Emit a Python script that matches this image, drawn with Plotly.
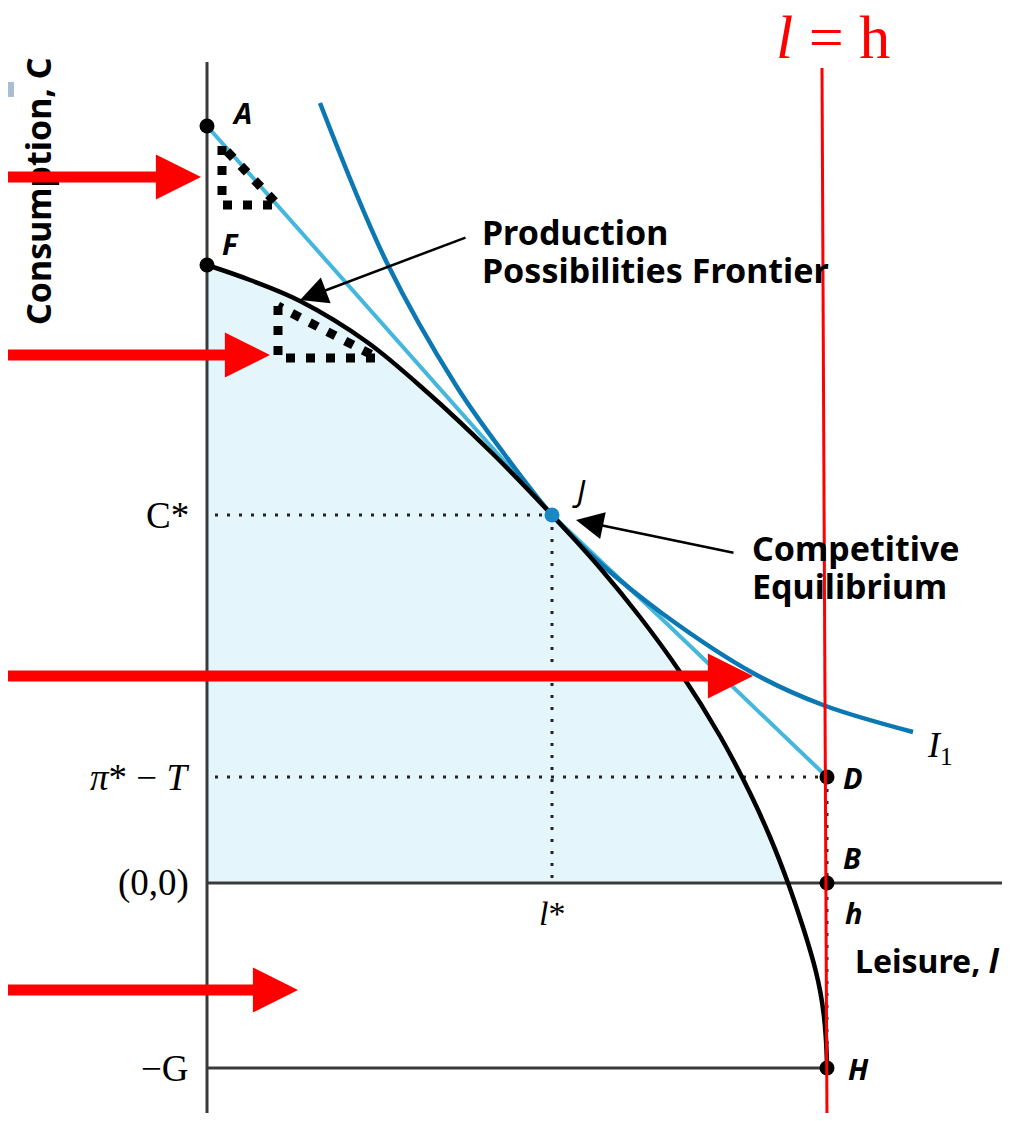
import plotly.graph_objects as go

# ---------------- data (leisure l on x, consumption C on y) ----------------
ppf_l = [0.0, 4.3, 9.3, 16.0, 22.0, 28.6, 34.5, 39.3, 43.3, 47.3, 51.3, 54.3, 56.3, 58.1,
         59.3, 60.3, 60.9, 61.35, 61.68, 61.88, 61.97, 62.0]
ppf_c = [61.8, 60.3, 58.2, 54.1, 49.1, 42.9, 36.8, 31.5, 26.6, 21.1, 14.7, 9.0, 4.6, 0.0,
         -3.5, -6.7, -8.9, -11.0, -13.2, -15.4, -17.2, -18.5]

budget_l = [0.0, 22.6, 34.5, 45.6, 62.0]
budget_c = [75.7, 50.3, 36.8, 26.3, 10.6]

indiff_l = [11.3, 18.0, 25.0, 29.8, 34.5, 39.3, 45.6, 54.6, 61.6, 70.6]
indiff_c = [78.0, 62.0, 49.6, 42.8, 36.8, 32.0, 26.9, 21.0, 17.8, 15.1]

h = 62.0
l_star = 34.5
c_star = 36.8
pi_minus_t = 10.6
c_A = 75.7
c_F = 61.8
minus_G = -18.5

tri_budget_l = [1.5, 1.5, 7.1, 1.5]
tri_budget_c = [73.7, 67.8, 67.8, 73.7]
tri_ppf_l = [7.1, 7.1, 17.1, 7.1]
tri_ppf_c = [57.7, 52.5, 52.5, 57.7]

point_names = ["A", "F", "D", "B", "H"]
point_l = [0.0, 0.0, h, h, h]
point_c = [c_A, c_F, pi_minus_t, 0.0, minus_G]

y_tick_labels = ["C*", "π* − T", "(0,0)", "−G"]
y_tick_values = [c_star, pi_minus_t, 0.0, minus_G]

red_arrow_tip_l = [-0.6, 6.3, 54.6, 9.1]
red_arrow_tip_c = [70.6, 52.8, 20.7, -10.7]

SANS = "Noto Sans"
SERIF = "Liberation Serif"
AXIS_COL = "#3a3a3a"
LIGHT_BLUE = "#45b6dc"
DARK_BLUE = "#0b77b3"

fig = go.Figure()

# shaded feasible region
n_pos = sum(1 for c in ppf_c if c >= 0)
fig.add_trace(go.Scatter(x=ppf_l[:n_pos], y=ppf_c[:n_pos], mode="lines",
                         line=dict(width=0, shape="spline"), fill="tozeroy",
                         fillcolor="#e4f6fc", hoverinfo="skip"))

# dotted guide lines
guide = dict(color="#222", width=3, dash="3px,9px")
fig.add_trace(go.Scatter(x=[0.8, l_star], y=[c_star, c_star], mode="lines", line=guide))
fig.add_trace(go.Scatter(x=[l_star, l_star], y=[c_star, 0], mode="lines", line=guide))
fig.add_trace(go.Scatter(x=[0.8, h], y=[pi_minus_t, pi_minus_t], mode="lines", line=guide))
fig.add_trace(go.Scatter(x=[h, h], y=[pi_minus_t, minus_G], mode="lines", line=guide))

# axes
fig.add_trace(go.Scatter(x=[0, 0], y=[82.1, -24.0], mode="lines", line=dict(color=AXIS_COL, width=3)))
fig.add_trace(go.Scatter(x=[0, 79.5], y=[0, 0], mode="lines", line=dict(color=AXIS_COL, width=3)))
fig.add_trace(go.Scatter(x=[0, h], y=[minus_G, minus_G], mode="lines", line=dict(color=AXIS_COL, width=3)))

# budget line, indifference curve, PPF
fig.add_trace(go.Scatter(x=budget_l, y=budget_c, mode="lines", line=dict(color=LIGHT_BLUE, width=4)))
fig.add_trace(go.Scatter(x=indiff_l, y=indiff_c, mode="lines",
                         line=dict(color=DARK_BLUE, width=4.5, shape="spline")))
fig.add_trace(go.Scatter(x=ppf_l, y=ppf_c, mode="lines",
                         line=dict(color="black", width=4.5, shape="spline")))

# dotted slope triangles
tri = dict(color="black", width=9, dash="9px,11px")
fig.add_trace(go.Scatter(x=tri_budget_l, y=tri_budget_c, mode="lines", line=tri))
fig.add_trace(go.Scatter(x=tri_ppf_l, y=tri_ppf_c, mode="lines", line=tri))

# points
fig.add_trace(go.Scatter(x=point_l, y=point_c, mode="markers",
                         marker=dict(color="black", size=15)))
fig.add_trace(go.Scatter(x=[l_star], y=[c_star], mode="markers",
                         marker=dict(color="#1a88c4", size=15)))

# red vertical line l = h
fig.add_trace(go.Scatter(x=[61.5, 62.0], y=[81.5, -24.0], mode="lines",
                         line=dict(color="#ff0000", width=3)))

ann = []

def txt(x, y, text, size, family=SANS, color="black", xanchor="left", yanchor="middle", angle=0):
    ann.append(dict(x=x, y=y, xref="x", yref="y", text=text, showarrow=False,
                    font=dict(family=family, size=size, color=color),
                    xanchor=xanchor, yanchor=yanchor, textangle=angle))

# point labels
label_pos = {"A": (2.3, 77.1), "F": (1.3, 64.0), "D": (63.4, pi_minus_t),
             "B": (63.4, 2.6), "H": (63.9, minus_G)}
for name in point_names:
    x, y = label_pos[name]
    txt(x, y, f"<b><i>{name}</i></b>", 29)
txt(63.6, -2.9, "<b><i>h</i></b>", 29)
txt(36.3, 39.3, "<i>J</i>", 30)

# y tick labels (serif)
for lab, v in zip(y_tick_labels, y_tick_values):
    if lab.startswith("π"):
        t = "<i>π</i>* − <i>T</i>"
    else:
        t = lab
    txt(-1.6, v, t, 37, family=SERIF, xanchor="right")
txt(l_star, -3.0, "<i>l</i>*", 34, family=SERIF, xanchor="center")

# I1 label
txt(71.8, 13.6, "<i>I</i><sub>1</sub>", 36, family=SERIF)

# big text
txt(27.3, 65.1, "<b>Production</b>", 34)
txt(27.3, 61.3, "<b>Possibilities Frontier</b>", 34)
txt(54.3, 33.5, "<b>Competitive</b>", 34)
txt(54.3, 29.7, "<b>Equilibrium</b>", 34)
txt(64.6, -7.7, "<b>Leisure, <i>l</i></b>", 32)
txt(-16.9, 69.2, "<b>Consumption, C</b>", 34, angle=-90, xanchor="center")
txt(62.6, 84.6, "<i>l</i> = h", 62, family=SERIF, color="#ff0000", xanchor="center")

# black pointer arrows
ann.append(dict(x=9.3, y=58.3, ax=26.0, ay=64.6, xref="x", yref="y", axref="x", ayref="y",
                text="", showarrow=True, arrowhead=2, arrowsize=2.2, arrowwidth=2.5, arrowcolor="black"))
ann.append(dict(x=36.9, y=36.3, ax=52.8, ay=33.0, xref="x", yref="y", axref="x", ayref="y",
                text="", showarrow=True, arrowhead=2, arrowsize=2.2, arrowwidth=2.5, arrowcolor="black"))

# red arrows
for tl, tc in zip(red_arrow_tip_l, red_arrow_tip_c):
    ann.append(dict(x=tl, y=tc, ax=-22.0, ay=tc, xref="x", yref="y", axref="x", ayref="y",
                    text="", showarrow=True, arrowhead=2, arrowsize=0.82, arrowwidth=11,
                    arrowcolor="#ff0000"))

# page body has an 8px margin: figure is 1000x1105 and ranges are set accordingly
fig.update_layout(
    width=1000, height=1105,
    margin=dict(l=0, r=0, t=0, b=0),
    paper_bgcolor="white", plot_bgcolor="white",
    showlegend=False,
    xaxis=dict(range=[-19.9, 80.1], visible=False, fixedrange=True),
    yaxis=dict(range=[-23.0, 87.5], visible=False, fixedrange=True),
    annotations=ann,
    shapes=[dict(type="rect", xref="x", yref="y", x0=-19.9, x1=-19.3, y0=78.6, y1=80.1,
                 fillcolor="#a9bdd3", line=dict(width=0))],
)

fig.write_html("out.html")
